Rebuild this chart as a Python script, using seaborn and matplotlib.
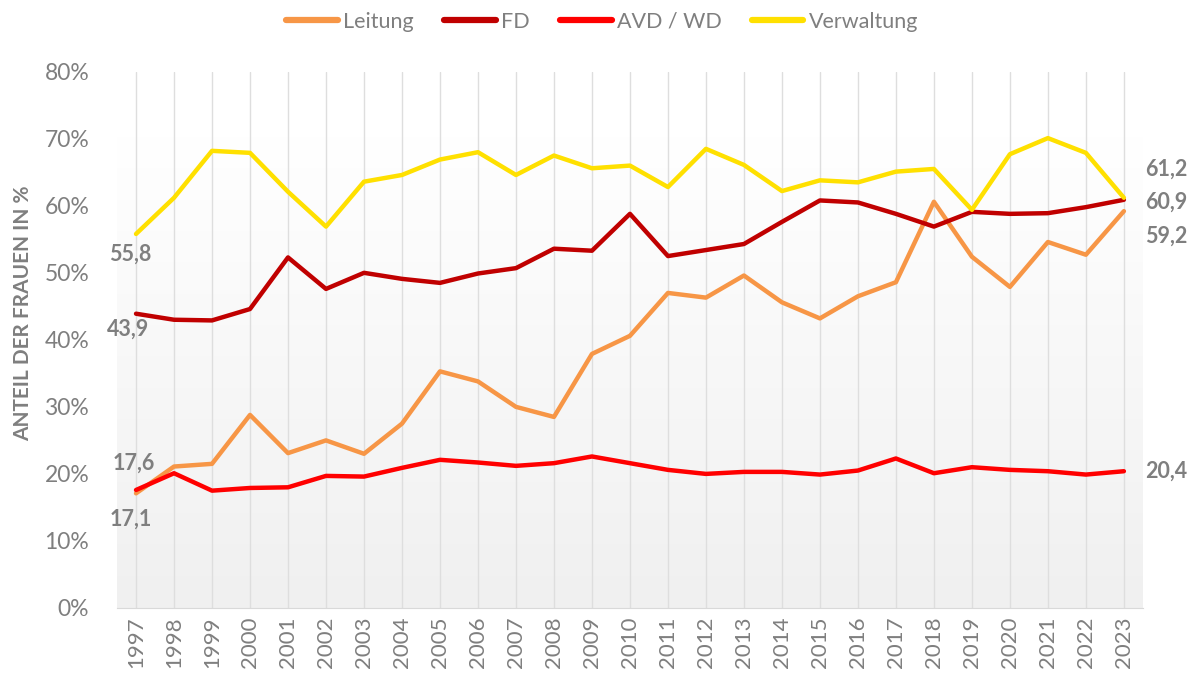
import numpy as np
import pandas as pd
import matplotlib.pyplot as plt
import seaborn as sns
from matplotlib.colors import LinearSegmentedColormap

years = list(range(1997, 2024))

leitung = [17.1, 21.1, 21.5, 28.8, 23.1, 25.0, 23.0, 27.5, 35.3, 33.8,
           30.0, 28.5, 37.9, 40.6, 47.0, 46.3, 49.6, 45.6, 43.2, 46.5,
           48.6, 60.6, 52.4, 47.9, 54.6, 52.7, 59.2]
fd = [43.9, 43.0, 42.9, 44.6, 52.3, 47.6, 50.0, 49.1, 48.5, 49.9,
      50.7, 53.6, 53.3, 58.8, 52.5, 53.4, 54.3, 57.6, 60.8, 60.5,
      58.8, 56.9, 59.1, 58.8, 58.9, 59.8, 60.9]
avd_wd = [17.6, 20.1, 17.5, 17.9, 18.0, 19.7, 19.6, 20.9, 22.1, 21.7,
          21.2, 21.6, 22.6, 21.6, 20.6, 20.0, 20.3, 20.3, 19.9, 20.5,
          22.3, 20.1, 21.0, 20.6, 20.4, 19.9, 20.4]
verwaltung = [55.8, 61.2, 68.2, 67.9, 62.1, 56.9, 63.6, 64.6, 66.9, 68.0,
              64.6, 67.5, 65.6, 66.0, 62.8, 68.5, 66.1, 62.2, 63.8, 63.5,
              65.1, 65.5, 59.4, 67.7, 70.1, 67.9, 61.2]

series = ['Leitung', 'FD', 'AVD / WD', 'Verwaltung']
colors = ['#f79646', '#c00000', '#ff0000', '#ffe000']

df = pd.DataFrame({'Jahr': years * 4,
                   'Wert': leitung + fd + avd_wd + verwaltung,
                   'Gruppe': [s for s in series for _ in years]})

sns.set_style('white')
plt.rcParams['font.family'] = ['Lato', 'DejaVu Sans']
grey = '#7f7f7f'

fig = plt.figure(figsize=(11.99, 6.77), dpi=100)
ax = fig.add_axes([0.0976, 0.102, 0.8556, 0.792])

# background gradient of the plot area
cmap = LinearSegmentedColormap.from_list('bg', ['#f0f0f0', '#ffffff'])
grad = np.linspace(0, 1, 256).reshape(-1, 1)
ax.imshow(grad, extent=[0, 1, 0, 0.88], transform=ax.transAxes, aspect='auto',
          cmap=cmap, origin='lower', zorder=0)

sns.lineplot(data=df, x='Jahr', y='Wert', hue='Gruppe', hue_order=series,
             palette=colors, linewidth=3.2, ax=ax, zorder=3)

ax.set_xlim(1996.5, 2023.5)
ax.set_ylim(0, 80)
ax.set_xticks(years)
ax.set_xticklabels([str(y) for y in years], rotation=90)
ax.set_yticks(range(0, 81, 10))
ax.set_yticklabels(['%d%%' % v for v in range(0, 81, 10)])
ax.tick_params(axis='both', colors=grey, labelsize=16, length=0)
ax.tick_params(axis='x', pad=6)
ax.tick_params(axis='y', pad=20, labelsize=16.5)
for lbl in ax.get_xticklabels() + ax.get_yticklabels():
    lbl.set_color(grey)

for y in years:
    ax.axvline(y, color='#dedede', linewidth=1, zorder=1)

for s in ['top', 'right', 'left']:
    ax.spines[s].set_visible(False)
ax.spines['bottom'].set_color('#d9d9d9')

ax.set_xlabel('')
ax.set_ylabel('ANTEIL DER FRAUEN IN %', color=grey, fontsize=15,
              fontweight='bold')
ax.yaxis.set_label_coords(-0.082, 0.55)

# value labels at start and end
lab = dict(fontsize=15.5, fontweight='bold', color=grey)
ax.text(1996.85, verwaltung[0] - 3, '55,8', ha='center', va='center', **lab)
ax.text(1996.8, fd[0] - 2.3, '43,9', ha='center', va='center', **lab)
ax.text(1996.95, avd_wd[0] + 4.0, '17,6', ha='center', va='center', **lab)
ax.text(1996.85, leitung[0] - 3.9, '17,1', ha='center', va='center', **lab)
ax.text(2023.55, 65.5, '61,2', ha='left', va='center', **lab)
ax.text(2023.55, 60.6, '60,9', ha='left', va='center', **lab)
ax.text(2023.55, 55.5, '59,2', ha='left', va='center', **lab)
ax.text(2023.55, 20.4, '20,4', ha='left', va='center', **lab)

leg = ax.legend(loc='center', bbox_to_anchor=(0.473, 1.093), ncol=4,
                frameon=False, fontsize=15.5, handlelength=2.4,
                columnspacing=1.4, handletextpad=0.25)
for t in leg.get_texts():
    t.set_color(grey)
for h in leg.get_lines():
    h.set_linewidth(4.5)

fig.savefig('out.png', dpi=100)
